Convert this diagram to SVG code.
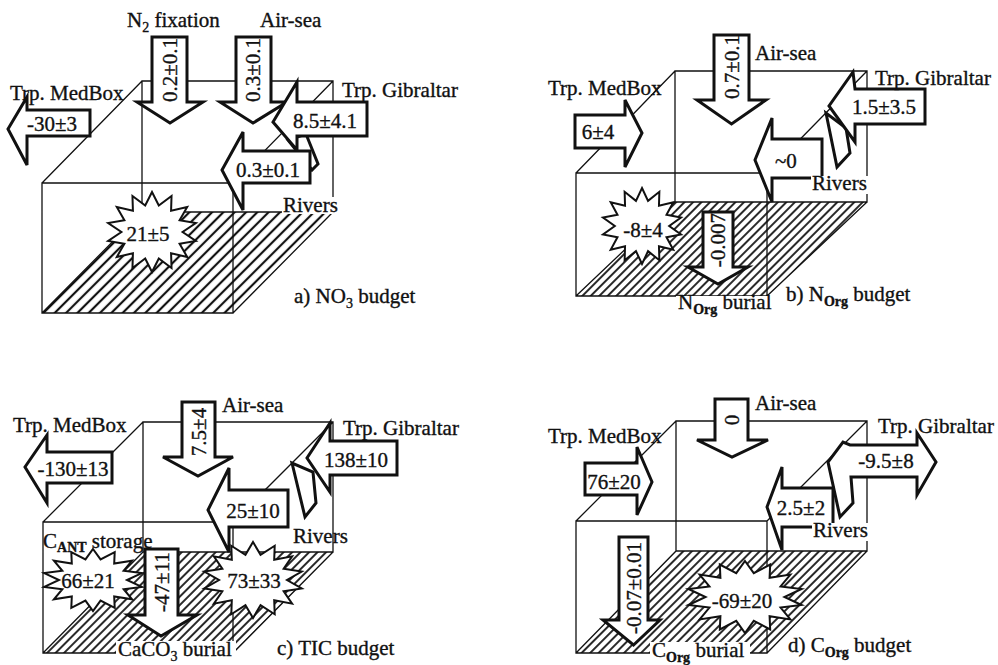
<svg xmlns="http://www.w3.org/2000/svg" xmlns:xlink="http://www.w3.org/1999/xlink" width="998" height="665" viewBox="0 0 998 665">
<style>
.bx{fill:none;stroke:#111;stroke-width:1.3}
.ar{fill:#fff;stroke:#111;stroke-width:3;stroke-linejoin:miter}
.st{fill:#fff;stroke:#111;stroke-width:2;vector-effect:non-scaling-stroke}
.bg{fill:#fff;stroke:none}
text{font-family:"Liberation Serif","Times New Roman",serif;font-size:21px;fill:#111;stroke:#111;stroke-width:0.35}
.m{text-anchor:middle}
.sub{font-size:14px}
.subb{font-size:14px;font-weight:bold}
</style>
<defs>
<pattern id="hA" patternUnits="userSpaceOnUse" width="8" height="8" patternTransform="rotate(45)">
<line x1="4" y1="0" x2="4" y2="8" stroke="#111" stroke-width="2.2"/>
</pattern>
<pattern id="hB" patternUnits="userSpaceOnUse" width="6" height="6" patternTransform="rotate(45)">
<line x1="3" y1="0" x2="3" y2="6" stroke="#111" stroke-width="1.8"/>
</pattern>
<polygon id="star" class="st" points="0,-1 0.151,-0.663 0.434,-0.901 0.424,-0.532 0.782,-0.623 0.613,-0.295 0.975,-0.222 0.68,0 0.975,0.222 0.613,0.295 0.782,0.623 0.424,0.532 0.434,0.901 0.151,0.663 0,1 -0.151,0.663 -0.434,0.901 -0.424,0.532 -0.782,0.623 -0.613,0.295 -0.975,0.222 -0.68,0 -0.975,-0.222 -0.613,-0.295 -0.782,-0.623 -0.424,-0.532 -0.434,-0.901 -0.151,-0.663"/>
</defs>
<rect width="998" height="665" fill="#fff"/>

<!-- ============ Panel a ============ -->
<g id="box-a">
<polygon points="42,313 233,313 333,212 142,212" fill="url(#hA)"/>
<path class="bx" d="M42,183H233V313H42Z M142,81H333V212H142Z M42,183L142,81 M233,183L333,81 M233,313L333,212 M42,313L142,212"/>
</g>
<g id="connectors-a">
<g id="a-medbox"><polygon class="ar" points="90,110 27,110 27,97 8,129 27,165 27,136 90,136"/><text class="m" x="52" y="131">-30±3</text></g>
<g id="a-n2fix"><polygon class="ar" points="152,37 187,37 187,102 203,102 170,123 137,102 152,102"/><text class="m" transform="translate(170,70) rotate(-90)" dy="7">0.2±0.1</text></g>
<g id="a-airsea"><polygon class="ar" points="236,37 271,37 271,102 287,102 253,123 220,102 236,102"/><text class="m" transform="translate(253,70) rotate(-90)" dy="7">0.3±0.1</text></g>
<g id="a-gibraltar"><polygon class="ar" points="288,140 312,170 318,164 306,134"/><polygon class="ar" points="367,102 297,102 297,82 273,122 297,150 297,136 367,136"/><text class="m" x="325" y="128">8.5±4.1</text></g>
<g id="a-rivers"><polygon class="ar" points="310,151 243,151 243,132 222,170 243,210 243,183 310,183"/><text class="m" x="268" y="177">0.3±0.1</text></g>
</g>
<g id="a-fix"><use href="#star" transform="translate(152,232) scale(45,40)"/><text class="m" x="148" y="241">21±5</text></g>
<g id="a-labels">
<text x="127" y="27">N<tspan class="sub" dy="5">2</tspan><tspan dy="-5"> fixation</tspan></text>
<text x="260" y="27">Air-sea</text>
<text x="10" y="100">Trp. MedBox</text>
<text x="342" y="97">Trp. Gibraltar</text>
<rect class="bg" x="282" y="197" width="57" height="17"/>
<text x="283" y="212">Rivers</text>
<text x="294" y="303">a) NO<tspan class="sub" dy="5">3</tspan><tspan dy="-5"> budget</tspan></text>
</g>

<!-- ============ Panel b ============ -->
<g id="box-b">
<polygon points="576,296 767,296 867,202 675,202" fill="url(#hB)"/>
<path class="bx" d="M576,173H767V296H576Z M675,71H867V202H675Z M576,173L675,71 M767,173L867,71 M767,296L867,202 M576,296L675,202"/>
</g>
<g id="connectors-b">
<g id="b-medbox"><polygon class="ar" points="575,115 625,115 625,100 642,133 625,167 625,148 575,148"/><text class="m" x="598" y="139">6±4</text></g>
<g id="b-airsea"><polygon class="ar" points="714,35 749,35 749,100 766,100 731.5,124 697,100 714,100"/><text class="m" transform="translate(731.5,67) rotate(-90)" dy="7">0.7±0.1</text></g>
<g id="b-gibraltar"><polygon class="ar" points="826,113 837,167 850,153 846,128"/><polygon class="ar" points="925,89 855,89 853,72 829,106 855,142 855,124 925,124"/><text class="m" x="884" y="114">1.5±3.5</text></g>
<g id="b-rivers"><polygon class="ar" points="822,139 772,139 772,118 755,160 772,202 772,178 822,178"/><text x="775" y="168">~0</text></g>
<g id="b-burial"><polygon class="ar" points="703,212 733,212 733,267 748,267 718,284 688,267 703,267"/><text class="m" transform="translate(718,240) rotate(-90)" dy="7">-0.007</text></g>
</g>
<g id="b-fix"><use href="#star" transform="translate(642,226) scale(40,38)"/><text class="m" x="643" y="237">-8±4</text></g>
<g id="b-labels">
<text x="755" y="60">Air-sea</text>
<text x="548" y="95">Trp. MedBox</text>
<text x="875" y="85">Trp. Gibraltar</text>
<rect class="bg" x="811" y="176" width="58" height="18"/>
<text x="812" y="190">Rivers</text>
<rect class="bg" x="676" y="296" width="98" height="19"/>
<text x="678" y="309">N<tspan class="subb" dy="5">Org</tspan><tspan dy="-5"> burial</tspan></text>
<text x="786" y="301">b) N<tspan class="subb" dy="5">Org</tspan><tspan dy="-5"> budget</tspan></text>
</g>

<!-- ============ Panel c ============ -->
<g id="box-c">
<polygon points="43,653 233,653 333,552 143,552" fill="url(#hB)"/>
<path class="bx" d="M43,522H233V653H43Z M143,422H333V552H143Z M43,522L143,422 M233,522L333,422 M233,653L333,552 M43,653L143,552"/>
</g>
<g id="connectors-c">
<g id="c-medbox"><polygon class="ar" points="112,452 47,452 47,435 25,467 47,503 47,483 112,483"/><text class="m" x="73" y="476">-130±13</text></g>
<g id="c-airsea"><polygon class="ar" points="182,402 215,402 215,457 233,457 198,476 163,457 182,457"/><text class="m" transform="translate(198.5,432) rotate(-90)" dy="7">7.5±4</text></g>
<g id="c-gibraltar"><polygon class="ar" points="292,463 305,517 316,503 313,472"/><polygon class="ar" points="397,441 330,441 330,423 307,458 330,492 330,475 397,475"/><text class="m" x="356" y="467">138±10</text></g>
<g id="c-rivers"><polygon class="ar" points="288,490 229,490 229,468 208,510 229,552 229,527 288,527"/><text class="m" x="253" y="518">25±10</text></g>
</g>
<g id="c-cant"><use href="#star" transform="translate(93,580) scale(50,31)"/><text class="m" x="88" y="588">66±21</text></g>
<g id="c-calc"><use href="#star" transform="translate(253,580) scale(50,38)"/><text class="m" x="254" y="588">73±33</text></g>
<g id="c-burial"><polygon class="ar" points="145,549 178,549 178,615 197,615 161,636 128,615 145,615"/><text class="m" transform="translate(161.5,582) rotate(-90)" dy="7">-47±11</text></g>
<g id="c-labels">
<text x="222" y="412">Air-sea</text>
<text x="13" y="432">Trp. MedBox</text>
<text x="343" y="435">Trp. Gibraltar</text>
<text x="293" y="543">Rivers</text>
<text x="43" y="548">C<tspan class="subb" dy="4">ANT</tspan><tspan dy="-4"> storage</tspan></text>
<rect class="bg" x="116" y="641" width="120" height="24"/>
<text x="118" y="656">CaCO<tspan class="sub" dy="5">3</tspan><tspan dy="-5"> burial</tspan></text>
<text x="277" y="655">c) TIC budget</text>
</g>

<!-- ============ Panel d ============ -->
<g id="box-d">
<polygon points="576,653 767,653 867,551 676,551" fill="url(#hB)"/>
<path class="bx" d="M576,521H767V653H576Z M676,421H867V551H676Z M576,521L676,421 M767,521L867,421 M767,653L867,551 M576,653L676,551"/>
</g>
<g id="connectors-d">
<g id="d-medbox"><polygon class="ar" points="585,463 637,463 637,447 652,482 637,515 637,495 585,495"/><text class="m" x="614" y="489">76±20</text></g>
<g id="d-airsea"><polygon class="ar" points="715,399 748,399 748,440 768,440 732,457 697,440 715,440"/><text class="m" transform="translate(731.5,420) rotate(-90)" dy="7">0</text></g>
<g id="d-gibraltar"><polygon class="ar" points="850,445 917,445 917,433 936,462 917,495 917,477 851,477 853,503 840,517 828,462 843,442"/><text class="m" x="886" y="468">-9.5±8</text></g>
<g id="d-rivers"><polygon class="ar" points="833,488 782,488 782,467 767,507 782,550 782,527 833,527"/><text class="m" x="801" y="515">2.5±2</text></g>
</g>
<g id="d-fix"><use href="#star" transform="translate(745,597) scale(58,36)"/><text class="m" x="742" y="608">-69±20</text></g>
<g id="d-burial"><polygon class="ar" points="619,537 648,537 648,620 660,620 633.5,645 603,620 619,620"/><text class="m" transform="translate(633.5,588) rotate(-90)" dy="7">-0.07±0.01</text></g>
<g id="d-labels">
<text x="755" y="410">Air-sea</text>
<text x="548" y="443">Trp. MedBox</text>
<text x="878" y="433">Trp. Gibraltar</text>
<rect class="bg" x="812" y="523" width="58" height="18"/>
<text x="813" y="537">Rivers</text>
<rect class="bg" x="650" y="642" width="100" height="23"/>
<text x="652" y="657">C<tspan class="subb" dy="5">Org</tspan><tspan dy="-5"> burial</tspan></text>
<text x="788" y="652">d) C<tspan class="subb" dy="5">Org</tspan><tspan dy="-5"> budget</tspan></text>
</g>
</svg>
